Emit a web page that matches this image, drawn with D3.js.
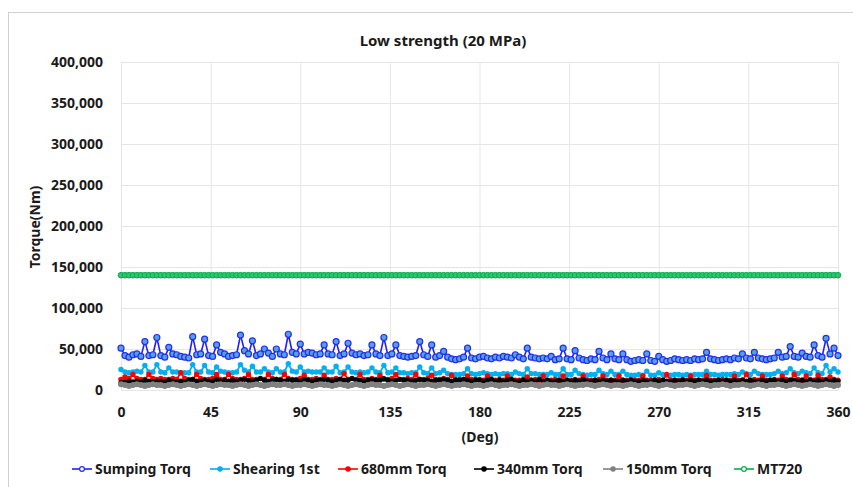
<!DOCTYPE html>
<html>
<head>
<meta charset="utf-8">
<script src="https://cdn.jsdelivr.net/npm/d3@7"></script>
<style>
  body { margin: 0; background: #fff; }
  svg { display: block; font-family: "Noto Sans", "Open Sans", sans-serif; }
</style>
</head>
<body>
<svg id="chart" width="853" height="487"></svg>
<script>
        // Data (torque values in thousands of Nm)
        const degrees = [
            0,2,4,6,8,10,12,14,16,18, 20,22,24,26,28,30,32,34,36,38,
            40,42,44,46,48,50,52,54,56,58, 60,62,64,66,68,70,72,74,76,78,
            80,82,84,86,88,90,92,94,96,98, 100,102,104,106,108,110,112,114,116,118,
            120,122,124,126,128,130,132,134,136,138, 140,142,144,146,148,150,152,154,156,158,
            160,162,164,166,168,170,172,174,176,178, 180,182,184,186,188,190,192,194,196,198,
            200,202,204,206,208,210,212,214,216,218, 220,222,224,226,228,230,232,234,236,238,
            240,242,244,246,248,250,252,254,256,258, 260,262,264,266,268,270,272,274,276,278,
            280,282,284,286,288,290,292,294,296,298, 300,302,304,306,308,310,312,314,316,318,
            320,322,324,326,328,330,332,334,336,338, 340,342,344,346,348,350,352,354,356,358,
            360
        ];
        const sumpingTorq = [
            51,42,40,43,44,41,59,42,43,64, 42,40,52,44,43,41,40,39,65,43,
            44,62,42,41,55,46,44,41,42,43, 67,48,44,60,42,44,50,45,41,50,
            44,43,68,46,44,56,44,46,45,43, 44,55,44,43,59,42,44,57,45,43,
            44,42,43,55,44,42,64,42,44,55, 42,41,40,41,42,59,43,41,55,40,
            42,47,40,38,37,38,40,51,39,38, 40,41,39,38,40,39,41,40,39,43,
            40,38,51,40,39,38,39,38,41,37, 38,51,38,37,48,39,37,36,38,37,
            47,39,37,44,38,37,44,37,35,36, 37,36,44,36,35,41,37,35,36,38,
            37,36,37,36,38,37,38,46,38,37, 36,37,38,37,39,38,44,39,38,46,
            39,38,37,38,39,46,40,41,53,41, 40,45,41,40,55,42,40,63,44,51,
            42
        ];
        const shearing1st = [
            25,22,21,22,23,22,30,22,22,31, 22,21,27,22,22,21,21,21,31,22,
            22,30,22,21,28,23,22,21,21,22, 31,24,22,29,22,22,26,22,21,26,
            22,22,32,23,22,28,22,23,22,22, 22,27,22,22,29,21,22,28,22,21,
            22,21,22,27,22,21,30,21,22,27, 21,21,20,21,21,28,21,20,27,20,
            21,24,20,19,19,19,20,26,20,19, 20,21,20,19,20,19,20,20,19,22,
            20,19,26,20,20,19,19,19,21,19, 19,26,19,19,24,20,19,18,19,19,
            24,20,19,23,19,19,23,19,18,18, 19,18,23,18,18,21,19,18,18,19,
            19,18,19,18,19,19,19,23,19,19, 18,19,19,19,20,19,22,20,19,23,
            20,19,19,19,20,23,20,21,26,21, 20,23,21,20,27,21,20,30,22,26,
            22
        ];
        const torq680 = [
            13,16,14,19,14,13,13,19,14,13, 14,13,13,14,13,21,14,13,13,19,
            14,13,13,14,19,13,13,19,14,13, 13,14,19,13,13,14,13,19,14,13,
            13,19,14,13,13,14,18,13,13,14, 13,18,13,13,14,13,20,13,14,13,
            19,13,13,14,13,18,13,13,14,19, 13,13,14,13,19,13,13,14,18,13,
            13,14,13,18,13,13,13,17,13,13, 13,12,17,13,12,13,12,17,13,12,
            12,13,16,12,13,12,17,12,12,13, 12,17,12,12,13,12,17,12,12,12,
            13,17,12,12,12,17,12,12,13,12, 12,17,12,12,12,13,12,19,12,12,
            12,13,12,17,12,12,12,18,12,12, 12,13,12,12,17,12,12,19,12,13,
            12,17,12,12,13,12,17,13,12,19, 13,12,17,13,12,18,13,13,16,13,
            12
        ];
        const torq340 = [
            9,10,11,10,11,10,12,11,10,11, 11,10,12,11,10,11,10,12,13,11,
            11,12,11,11,13,11,12,11,12,11, 12,13,12,11,12,14,12,11,12,13,
            12,11,13,12,12,11,13,12,11,12, 12,13,12,11,12,13,12,12,14,12,
            12,11,12,13,12,12,14,12,11,12, 13,12,12,11,12,13,12,12,11,12,
            12,13,12,11,12,12,13,12,11,12, 12,11,12,13,11,12,11,12,13,11,
            11,12,11,12,11,13,11,12,11,11, 12,11,12,11,12,11,13,11,11,12,
            11,12,11,12,11,11,12,11,12,11, 11,12,11,11,12,11,12,11,11,12,
            11,12,11,12,11,12,11,12,11,11, 12,11,12,11,12,11,12,11,12,11,
            11,12,11,12,12,11,12,11,12,12, 11,12,11,12,11,12,11,12,11,12,
            11
        ];
        const torq150 = [
            7,6,5,6,7,6,5,6,7,6, 6,5,6,7,6,5,6,7,6,5,
            6,7,6,5,6,7,6,6,5,6, 7,6,5,6,7,6,5,6,7,6,
            6,7,6,5,6,6,7,6,5,6, 7,6,6,5,6,7,6,5,6,7,
            6,5,6,7,6,6,5,6,7,6, 5,6,7,6,5,6,6,7,6,5,
            6,7,6,5,6,6,7,6,5,6, 6,5,6,7,6,5,6,6,7,6,
            5,6,6,7,6,5,6,7,6,6, 5,6,7,6,5,6,6,7,6,5,
            6,7,6,5,6,6,5,6,7,6, 5,6,6,7,6,5,6,7,6,5,
            6,6,7,6,5,6,7,6,5,6, 6,7,6,5,6,6,7,6,5,6,
            7,6,5,6,6,7,6,5,6,7, 6,5,6,7,6,5,6,7,6,5,
            6
        ];
        const mt720 = [
            140,140,140,140,140,140,140,140,140,140, 140,140,140,140,140,140,140,140,140,140,
            140,140,140,140,140,140,140,140,140,140, 140,140,140,140,140,140,140,140,140,140,
            140,140,140,140,140,140,140,140,140,140, 140,140,140,140,140,140,140,140,140,140,
            140,140,140,140,140,140,140,140,140,140, 140,140,140,140,140,140,140,140,140,140,
            140,140,140,140,140,140,140,140,140,140, 140,140,140,140,140,140,140,140,140,140,
            140,140,140,140,140,140,140,140,140,140, 140,140,140,140,140,140,140,140,140,140,
            140,140,140,140,140,140,140,140,140,140, 140,140,140,140,140,140,140,140,140,140,
            140,140,140,140,140,140,140,140,140,140, 140,140,140,140,140,140,140,140,140,140,
            140,140,140,140,140,140,140,140,140,140, 140,140,140,140,140,140,140,140,140,140,
            140
        ];

        const seriesNames = ['Sumping Torq', 'Shearing 1st', '680mm Torq', '340mm Torq', '150mm Torq', 'MT720'];
        const xTicks = [0, 45, 90, 135, 180, 225, 270, 315, 360];
        const yTicks = [0, 50, 100, 150, 200, 250, 300, 350, 400];
        const yTickLabels = ['0', '50,000', '100,000', '150,000', '200,000', '250,000', '300,000', '350,000', '400,000'];

        // Styles per series
        const styles = [
            { values: sumpingTorq, line: '#1f1fff', width: 1.6, r: 3, fill: '#4fa3e0', stroke: '#2a2af0', sw: 1.2 },
            { values: shearing1st, line: '#00b0f0', width: 1.8, r: 2.7, fill: '#00b0f0', stroke: '#00b0f0', sw: 0 },
            { values: torq680, line: '#ff0000', width: 1.8, r: 2.7, fill: '#ff0000', stroke: '#ff0000', sw: 0 },
            { values: torq340, line: '#000000', width: 2.6, r: 2.6, fill: '#000000', stroke: '#000000', sw: 0 },
            { values: torq150, line: '#808080', width: 4.5, r: 3, fill: '#808080', stroke: '#808080', sw: 0 },
            { values: mt720, line: '#00b050', width: 5, r: 2.8, fill: '#2fc46e', stroke: '#00b050', sw: 1 }
        ];

        const svg = d3.select('#chart');
        const W = 853, H = 487;
        const m = { left: 121, right: 838, top: 62, bottom: 390 };

        svg.append('rect').attr('width', W).attr('height', H).attr('fill', '#fff');
        svg.append('rect').attr('x', 8.5).attr('y', 12.5).attr('width', 900).attr('height', 500)
            .attr('fill', 'none').attr('stroke', '#d0d0d0');

        const x = d3.scaleLinear().domain([0, 360]).range([m.left, m.right]);
        const y = d3.scaleLinear().domain([0, 400]).range([m.bottom, m.top]);

        // Gridlines
        svg.append('g').attr('transform', `translate(0,${m.bottom})`)
            .call(d3.axisBottom(x).tickValues(xTicks).tickSize(-(m.bottom - m.top)).tickFormat(''))
            .call(g => g.select('.domain').remove())
            .call(g => g.selectAll('line').attr('stroke', '#e6e6e6'));
        svg.append('g').attr('transform', `translate(${m.left},0)`)
            .call(d3.axisLeft(y).tickValues(yTicks).tickSize(-(m.right - m.left)).tickFormat(''))
            .call(g => g.select('.domain').remove())
            .call(g => g.selectAll('line').attr('stroke', '#e6e6e6'));

        // Axis labels
        svg.append('g').attr('transform', `translate(0,${m.bottom})`)
            .call(d3.axisBottom(x).tickValues(xTicks).tickSize(0).tickPadding(17))
            .call(g => g.select('.domain').remove())
            .call(g => g.selectAll('text').attr('font-family', '"Noto Sans", sans-serif')
                .attr('font-size', 14).attr('font-weight', 'bold').attr('fill', '#1a1a1a'));
        svg.append('g').attr('transform', `translate(${m.left},0)`)
            .call(d3.axisLeft(y).tickValues(yTicks).tickSize(0).tickPadding(18).tickFormat((d, i) => yTickLabels[i]))
            .call(g => g.select('.domain').remove())
            .call(g => g.selectAll('text').attr('font-family', '"Noto Sans", sans-serif')
                .attr('font-size', 14).attr('font-weight', 'bold').attr('fill', '#1a1a1a'));

        // Titles
        svg.append('text').attr('x', 443).attr('y', 46).attr('text-anchor', 'middle')
            .attr('font-size', 15).attr('font-weight', 'bold').attr('fill', '#1a1a1a').text('Low strength (20 MPa)');
        svg.append('text').attr('x', 480).attr('y', 442).attr('text-anchor', 'middle')
            .attr('font-size', 14).attr('font-weight', 'bold').attr('fill', '#1a1a1a').text('(Deg)');
        svg.append('text').attr('transform', 'translate(40,227) rotate(-90)').attr('text-anchor', 'middle')
            .attr('font-size', 14).attr('font-weight', 'bold').attr('fill', '#1a1a1a').text('Torque(Nm)');

        // Series
        const line = d3.line().x((d, i) => x(degrees[i])).y(d => y(d));
        styles.forEach(s => {
            const g = svg.append('g');
            g.append('path').datum(s.values).attr('d', line)
                .attr('fill', 'none').attr('stroke', s.line).attr('stroke-width', s.width)
                .attr('stroke-linejoin', 'round').attr('stroke-linecap', 'round');
            g.selectAll('circle').data(s.values).enter().append('circle')
                .attr('cx', (d, i) => x(degrees[i])).attr('cy', d => y(d)).attr('r', s.r)
                .attr('fill', s.fill).attr('stroke', s.stroke).attr('stroke-width', s.sw);
        });

        // Legend
        const legendX = [72, 210, 338, 474, 603, 734];
        const legendY = 469;
        seriesNames.forEach((name, i) => {
            const s = styles[i];
            const g = svg.append('g').attr('transform', `translate(${legendX[i]},${legendY})`);
            g.append('line').attr('x1', 0).attr('x2', 20).attr('stroke', s.line).attr('stroke-width', 1.6);
            g.append('circle').attr('cx', 10).attr('r', i === 0 || i === 5 ? 2.4 : 2.2)
                .attr('fill', i === 0 || i === 5 ? '#fff' : s.fill).attr('stroke', s.stroke).attr('stroke-width', 1.2);
            g.append('text').attr('x', 23).attr('y', 5).attr('font-size', 14).attr('font-weight', 'bold')
                .attr('fill', '#1a1a1a').text(name);
        });
</script>
</body>
</html>
